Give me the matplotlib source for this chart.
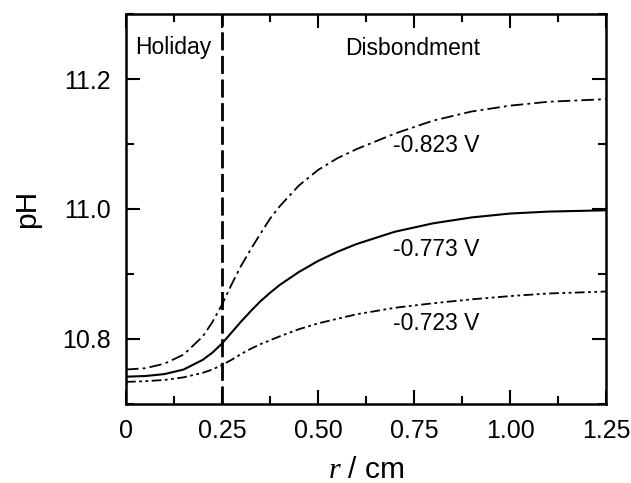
import matplotlib
matplotlib.use("Agg")
import matplotlib.pyplot as plt
from matplotlib.ticker import MultipleLocator, FixedFormatter, FixedLocator

plt.rcParams['font.family'] = ['Liberation Sans', 'DejaVu Sans']
plt.rcParams['mathtext.fontset'] = 'custom'
plt.rcParams['mathtext.it'] = 'Liberation Serif:italic'
plt.rcParams['lines.scale_dashes'] = False

# radial position r / cm
r = [0, 0.05, 0.10, 0.15, 0.20, 0.225, 0.25, 0.275, 0.30, 0.325, 0.35, 0.375,
     0.40, 0.45, 0.50, 0.55, 0.60, 0.70, 0.80, 0.90, 1.00, 1.10, 1.25]

ph_823 = [10.753, 10.755, 10.762, 10.776, 10.804, 10.826, 10.853, 10.884, 10.913,
          10.938, 10.962, 10.985, 11.004, 11.036, 11.060, 11.078, 11.092, 11.116,
          11.136, 11.150, 11.159, 11.165, 11.169]
ph_773 = [10.742, 10.743, 10.746, 10.753, 10.768, 10.779, 10.793, 10.810, 10.827,
          10.843, 10.858, 10.871, 10.883, 10.903, 10.920, 10.934, 10.946, 10.965,
          10.978, 10.987, 10.993, 10.996, 10.998]
ph_723 = [10.734, 10.735, 10.737, 10.741, 10.748, 10.753, 10.760, 10.768, 10.777,
          10.785, 10.792, 10.798, 10.804, 10.815, 10.824, 10.831, 10.838, 10.848,
          10.855, 10.861, 10.866, 10.870, 10.873]

holiday_edge = 0.25
xticks = [0, 0.25, 0.50, 0.75, 1.00, 1.25]
xtick_labels = ['0', '0.25', '0.50', '0.75', '1.00', '1.25']
yticks = [10.8, 11.0, 11.2]
ytick_labels = ['10.8', '11.0', '11.2']

fig = plt.figure(figsize=(6.31, 4.83), dpi=100)
ax = fig.add_axes([0.1997, 0.1636, 0.7607, 0.8074])

ax.plot(r, ph_823, color='black', lw=1.3, dashes=[9, 3, 2, 3])
ax.plot(r, ph_773, color='black', lw=1.5, ls='-')
ax.plot(r, ph_723, color='black', lw=1.3, dashes=[7, 2.5, 2, 2.5, 2, 2.5])
ax.axvline(holiday_edge, color='black', lw=2.0, dashes=[13, 4])

ax.set_xlim(0, 1.25)
ax.set_ylim(10.7, 11.3)

ax.xaxis.set_major_locator(FixedLocator(xticks))
ax.xaxis.set_major_formatter(FixedFormatter(xtick_labels))
ax.xaxis.set_minor_locator(MultipleLocator(0.125))
ax.yaxis.set_major_locator(FixedLocator(yticks))
ax.yaxis.set_major_formatter(FixedFormatter(ytick_labels))
ax.yaxis.set_minor_locator(MultipleLocator(0.1))

ax.tick_params(which='both', direction='in', top=True, right=True,
               width=1.5, labelsize=18)
ax.tick_params(which='major', length=10)
ax.tick_params(which='minor', length=5.5)
ax.tick_params(axis='x', which='major', pad=11)
ax.tick_params(axis='y', which='major', pad=11)
for s in ax.spines.values():
    s.set_linewidth(1.8)

ax.set_xlabel(r'$\it{r}$ / cm', fontsize=21.5, labelpad=9)
ax.set_ylabel('pH', fontsize=21.5, labelpad=15)

ax.text(0.025, 11.238, 'Holiday', fontsize=16.5, va='baseline', ha='left')
ax.text(0.746, 11.237, 'Disbondment', fontsize=16.5, va='baseline', ha='center')
ax.text(0.695, 11.088, '-0.823 V', fontsize=16.5, va='baseline', ha='left')
ax.text(0.695, 10.928, '-0.773 V', fontsize=16.5, va='baseline', ha='left')
ax.text(0.695, 10.814, '-0.723 V', fontsize=16.5, va='baseline', ha='left')

fig.savefig('out.png', dpi=100)
